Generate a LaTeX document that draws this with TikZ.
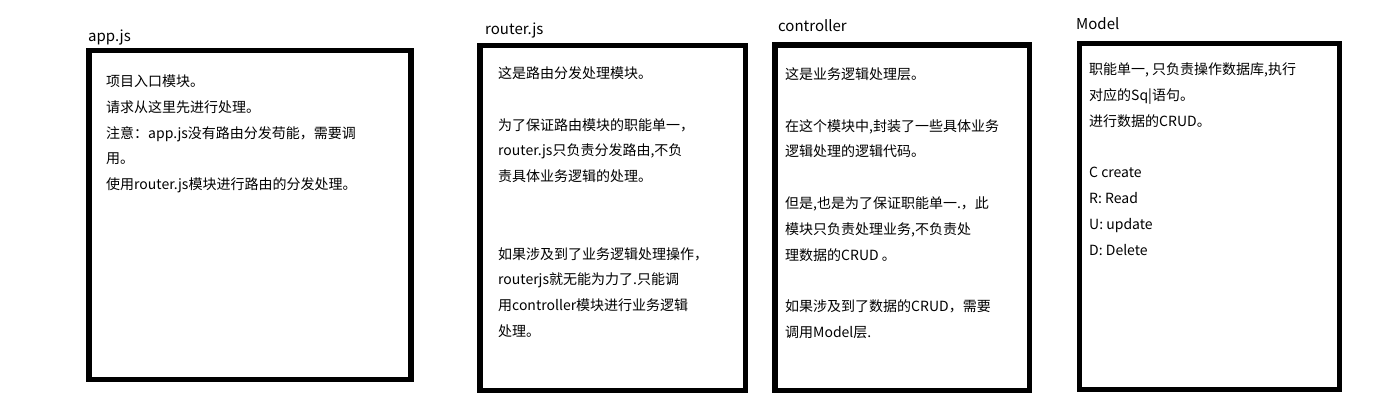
\documentclass[tikz,border=0pt]{standalone}
\usepackage{fontspec}
\setmainfont{Noto Sans CJK SC}
\usepackage{tikz}
\usetikzlibrary{positioning}

\tikzset{
  modbox/.style={black, line width=5.5pt},
  modtitle/.style={anchor=base west, inner sep=0pt, font=\fontsize{15}{17}\selectfont},
  modtext/.style={anchor=north west, inner sep=0pt, align=left, font=\fontsize{14}{25.8}\selectfont},
}

\begin{document}
\begin{tikzpicture}[x=1pt,y=-1pt]
				\useasboundingbox (0,0) rectangle (1374,414);
				% app.js
				\draw[modbox] (89,50.5) rectangle (411,379.5);
				\node[modtitle] (apptitle) at (88,42) {app.js};
				\node[modtext] (apptext) at (106,74.5) {项目入口模块。\\请求从这里先进行处理。\\注意：app.js没有路由分发苟能，需要调\\用。\\使用router.js模块进行路由的分发处理。};
				% router.js
				\draw[modbox] (480,45.5) rectangle (745.5,390.5);
				\node[modtitle] (routertitle) at (485,35) {router.js};
				\node[modtext] (routertext) at (498,66.5) {这是路由分发处理模块。\\~\\为了保证路由模块的职能单一，\\router.js只负责分发路由,不负\\责具体业务逻辑的处理。\\~\\~\\如果涉及到了业务逻辑处理操作，\\routerjs就无能为力了.只能调\\用controller模块进行业务逻辑\\处理。};
				% controller
				\draw[modbox] (775,45) rectangle (1029.5,390.5);
				\node[modtitle] (ctrltitle) at (778,31.5) {controller};
				\node[modtext] (ctrltext) at (785,67.5) {这是业务逻辑处理层。\\~\\在这个模块中,封装了一些具体业务\\逻辑处理的逻辑代码。\\~\\但是,也是为了保证职能单一.，此\\模块只负责处理业务,不负责处\\理数据的CRUD 。\\~\\如果涉及到了数据的CRUD，需要\\调用Model层.};
				% Model
				\draw[modbox] (1079.5,43.5) rectangle (1339.5,389.5);
				\node[modtitle] (modeltitle) at (1076,30) {Model};
				\node[modtext] (modeltext) at (1089,62.5) {职能单一, 只负责操作数据库,执行\\对应的Sq|语句。\\进行数据的CRUD。\\~\\C create\\R: Read\\U: update\\D: Delete};
\end{tikzpicture}
\end{document}
